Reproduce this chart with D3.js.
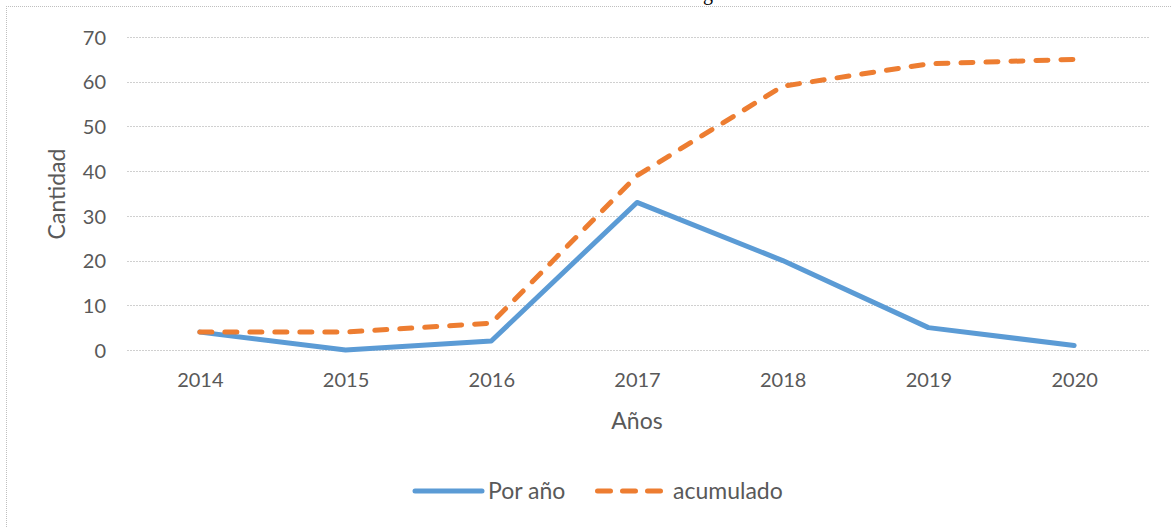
<!DOCTYPE html>
<html>
<head>
<meta charset="utf-8">
<script src="https://cdn.jsdelivr.net/npm/d3@7"></script>
<style>
  html, body { margin: 0; padding: 0; background: #fff; }
  svg { display: block; }
</style>
</head>
<body>
<svg id="chart" width="1171" height="527"></svg>
<script>
const years = ["2014", "2015", "2016", "2017", "2018", "2019", "2020"];
const porAnio = [4, 0, 2, 33, 20, 5, 1];
const acumulado = [4, 4, 6, 39, 59, 64, 65];
const yTicks = [0, 10, 20, 30, 40, 50, 60, 70];
const seriesNames = ["Por año", "acumulado"];
const seriesColors = ["#5B9BD5", "#ED7D31"];

(function () {
const svg = d3.select("#chart");
const W = 1171, H = 527;
const font = "Lato, 'Open Sans', sans-serif";
const textColor = "#595959";

// outer frame (dotted)
svg.append("line").attr("x1", 6).attr("x2", W).attr("y1", 6.5).attr("y2", 6.5)
  .attr("stroke", "#bfbfbf").attr("stroke-width", 1).attr("stroke-dasharray", "1,1");
svg.append("line").attr("x1", 6.5).attr("x2", 6.5).attr("y1", 6).attr("y2", H)
  .attr("stroke", "#bfbfbf").attr("stroke-width", 1).attr("stroke-dasharray", "1,1");

// cut-off title glyph (partially visible above the frame in the reference)
svg.append("text").attr("x", 708).attr("y", 0).attr("text-anchor", "middle")
  .attr("font-family", "'Liberation Serif', serif").attr("font-size", 20)
  .attr("fill", "#000").text("g");

const mLeft = 127, mRight = 1147, mTop = 37, mBottom = 350;
const x = d3.scalePoint().domain(years).range([mLeft, mRight]).padding(0.5);
const y = d3.scaleLinear().domain([0, 70]).range([mBottom, mTop]);

// gridlines
svg.append("g").selectAll("line").data(yTicks).join("line")
  .attr("x1", mLeft).attr("x2", mRight + 2)
  .attr("y1", d => Math.round(y(d)) + 0.5).attr("y2", d => Math.round(y(d)) + 0.5)
  .attr("stroke", "#d0d0d0").attr("stroke-width", 1.2).attr("stroke-dasharray", "2,1");

// y axis labels
const yAxis = d3.axisLeft(y).tickValues(yTicks).tickSize(0).tickPadding(0);
const gy = svg.append("g").attr("transform", `translate(106,0)`).call(yAxis);
gy.select(".domain").remove();
gy.selectAll("text").attr("font-family", font).attr("font-size", 20).attr("fill", textColor)
  .attr("dy", "0.36em");

// x axis labels
const xAxis = d3.axisBottom(x).tickSize(0).tickPadding(0);
const gx = svg.append("g").attr("transform", `translate(0,372)`).call(xAxis);
gx.select(".domain").remove();
gx.selectAll("text").attr("font-family", font).attr("font-size", 20).attr("fill", textColor)
  .attr("dy", "0.76em");

// axis titles
svg.append("text").attr("transform", "translate(65,194) rotate(-90)")
  .attr("text-anchor", "middle").attr("font-family", font).attr("font-size", 23)
  .attr("fill", textColor).text("Cantidad");
svg.append("text").attr("x", 637).attr("y", 429).attr("text-anchor", "middle")
  .attr("font-family", font).attr("font-size", 23).attr("fill", textColor).text("Años");

// lines
const line = d3.line().x((d, i) => x(years[i])).y(d => y(d));
svg.append("path").datum(porAnio).attr("d", line)
  .attr("fill", "none").attr("stroke", seriesColors[0]).attr("stroke-width", 5)
  .attr("stroke-linejoin", "round").attr("stroke-linecap", "round");
svg.append("path").datum(acumulado).attr("d", line)
  .attr("fill", "none").attr("stroke", seriesColors[1]).attr("stroke-width", 5)
  .attr("stroke-dasharray", "12,13").attr("stroke-linecap", "round")
  .attr("stroke-linejoin", "round");

// legend
const lg = svg.append("g");
const legendY = 491;
lg.append("line").attr("x1", 415).attr("x2", 482).attr("y1", legendY).attr("y2", legendY)
  .attr("stroke", seriesColors[0]).attr("stroke-width", 5).attr("stroke-linecap", "round");
lg.append("text").attr("x", 488).attr("y", legendY).attr("dy", "0.36em")
  .attr("font-family", font).attr("font-size", 23).attr("fill", textColor).text(seriesNames[0]);
lg.append("line").attr("x1", 597.5).attr("x2", 666).attr("y1", legendY).attr("y2", legendY)
  .attr("stroke", seriesColors[1]).attr("stroke-width", 5).attr("stroke-linecap", "round")
  .attr("stroke-dasharray", "13,12");
lg.append("text").attr("x", 673).attr("y", legendY).attr("dy", "0.36em")
  .attr("font-family", font).attr("font-size", 23).attr("fill", textColor).text(seriesNames[1]);
})();
</script>
</body>
</html>
